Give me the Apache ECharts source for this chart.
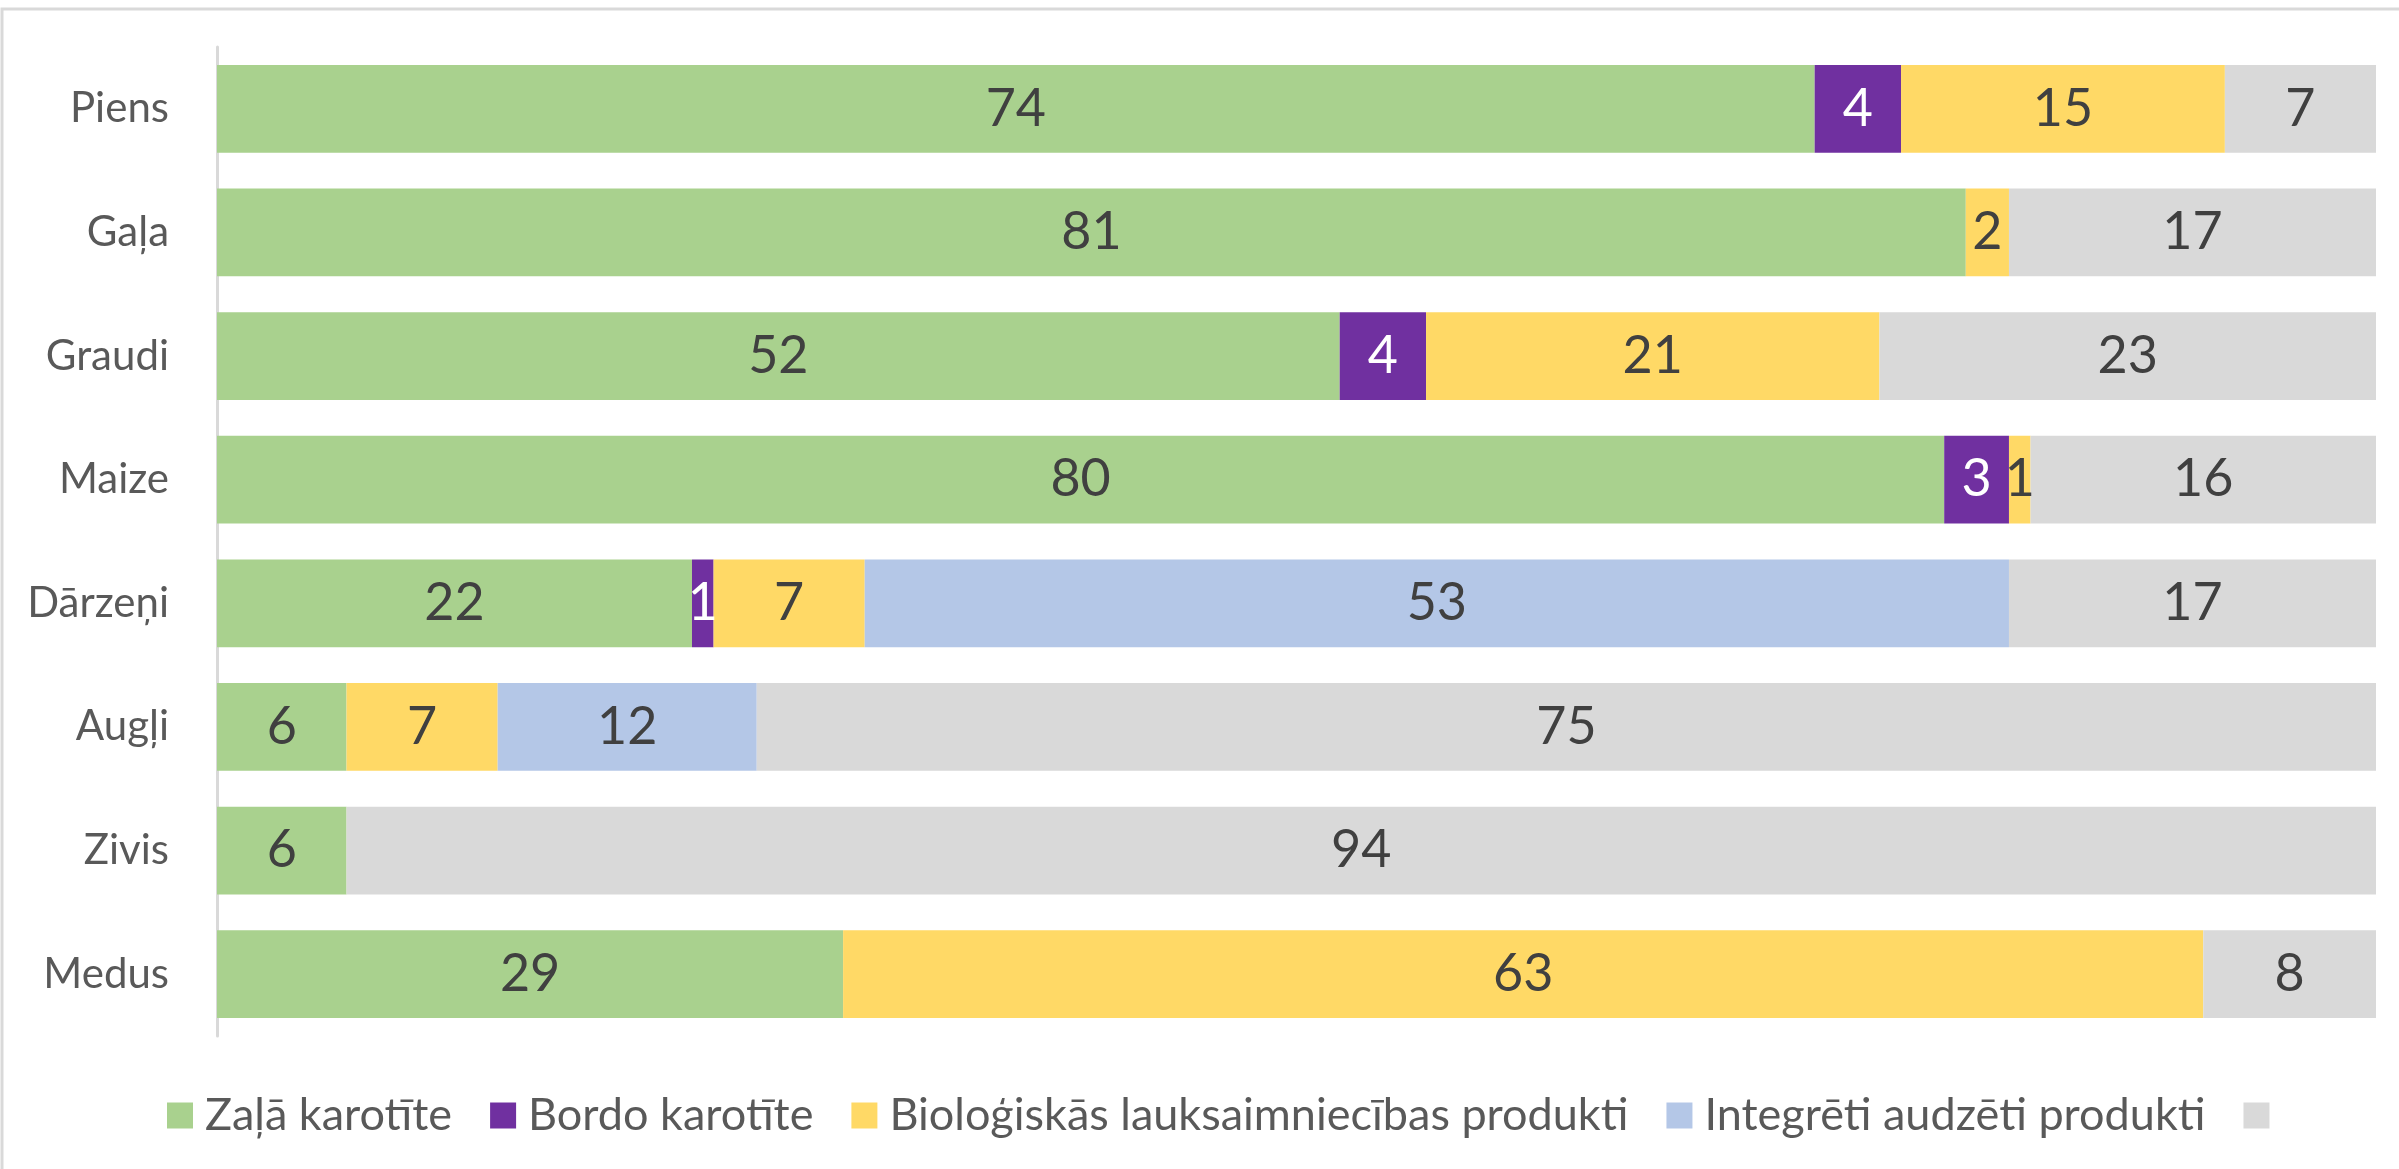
<!DOCTYPE html>
<html>
<head>
<meta charset="utf-8">
<script src="https://cdn.jsdelivr.net/npm/echarts@6/dist/echarts.min.js"></script>
<style>
html,body{margin:0;padding:0;background:#fff;}
#chart{width:2399px;height:1169px;}
</style>
</head>
<body>
<div id="chart"></div>
<script>
var categories = ['Piens', 'Gaļa', 'Graudi', 'Maize', 'Dārzeņi', 'Augļi', 'Zivis', 'Medus']
var seriesNames = ['Zaļā karotīte', 'Bordo karotīte', 'Bioloģiskās lauksaimniecības produkti', 'Integrēti audzēti produkti', ' ']
var zala = [74, 81, 52, 80, 22, 6, 6, 29]
var bordo = [4, 0, 4, 3, 1, 0, 0, 0]
var bio = [15, 2, 21, 1, 7, 7, 0, 63]
var integ = [0, 0, 0, 0, 53, 12, 0, 0]
var other = [7, 17, 23, 16, 17, 75, 94, 8]

var colors = ['#A9D18E', '#7030A0', '#FFD966', '#B4C7E7', '#D9D9D9']
var font = 'Lato'

function makeSeries(name, data, labelColor){
    return {
        name: name,
        type: 'bar',
        stack: 'total',
        barCategoryGap: '29%',
        label: {
            show: true,
            position: 'inside',
            color: labelColor,
            fontFamily: font,
            fontSize: 52,
            formatter: function(p){ return p.value > 0 ? p.value : '' }
        },
        emphasis: {disabled: true},
        data: data
    }
}

var myChart = echarts.init(document.getElementById('chart'))
myChart.setOption({
    animation: false,
    color: colors,
    graphic: [{
        type: 'rect',
        shape: {x: 2, y: 9, width: 2600, height: 1400},
        style: {fill: 'none', stroke: '#D9D9D9', lineWidth: 3},
        silent: true
    }],
    legend: {
        left: 162,
        top: 1088,
        itemWidth: 26,
        itemHeight: 26,
        itemGap: 38,
        icon: 'rect',
        textStyle: {color: '#595959', fontFamily: font, fontSize: 45, padding: [0, 0, 0, 7]},
        data: seriesNames
    },
    grid: {
        left: 217,
        right: 23,
        top: 47,
        bottom: 133,
        containLabel: false
    },
    xAxis: {
        type: 'value',
        min: 0,
        max: 100,
        show: false
    },
    yAxis: {
        type: 'category',
        inverse: true,
        data: categories,
        axisLine: {lineStyle: {color: '#D9D9D9', width: 3}},
        axisTick: {show: false},
        axisLabel: {color: '#595959', fontFamily: font, fontSize: 42, margin: 48}
    },
    series: [
        makeSeries(seriesNames[0], zala, '#404040'),
        makeSeries(seriesNames[1], bordo, '#FFFFFF'),
        makeSeries(seriesNames[2], bio, '#404040'),
        makeSeries(seriesNames[3], integ, '#404040'),
        makeSeries(seriesNames[4], other, '#404040')
    ]
})
</script>
</body>
</html>
